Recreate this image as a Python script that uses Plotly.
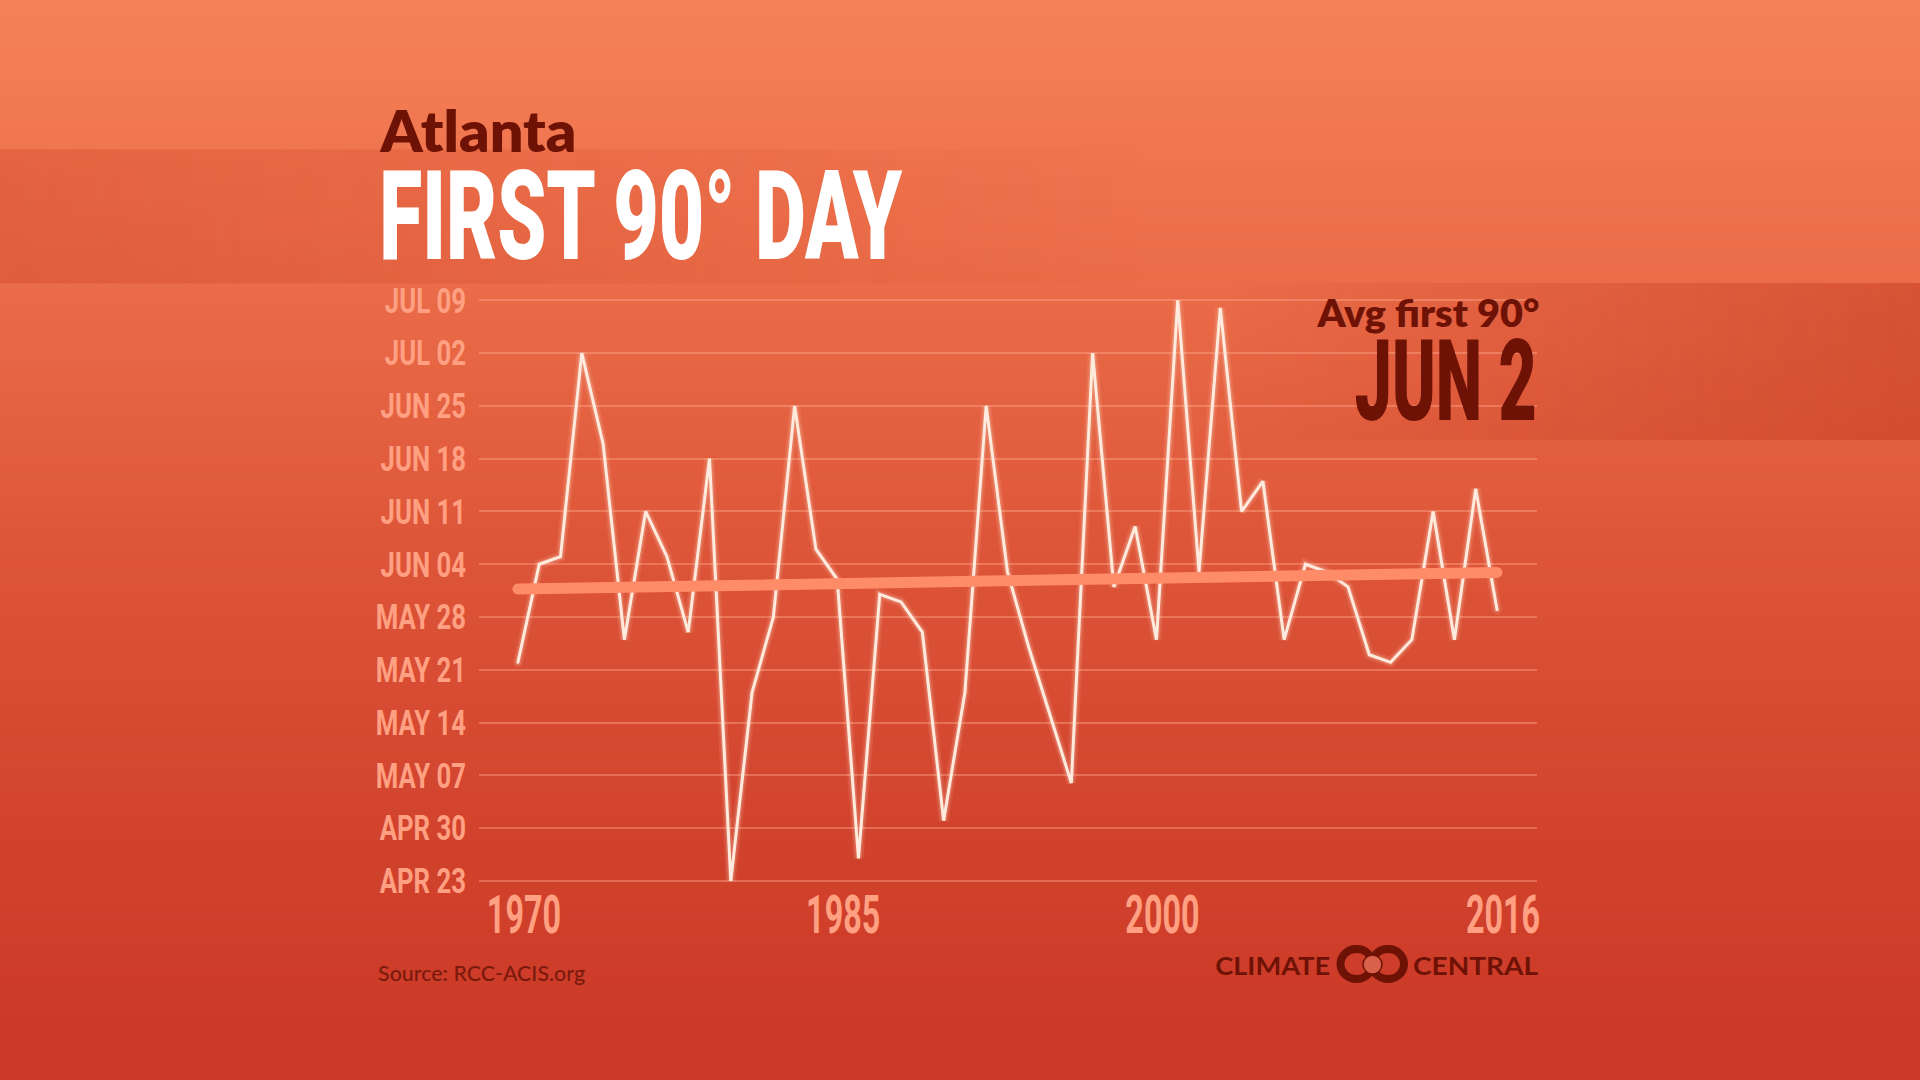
from datetime import datetime
import numpy as np
import plotly.graph_objects as go

W, H = 1920, 1080

years = list(range(1970, 2017))
first_90 = ["May 22","Jun 4","Jun 5","Jul 2","Jun 20","May 25","Jun 11","Jun 5","May 26","Jun 18",
            "Apr 23","May 18","May 28","Jun 25","Jun 6","Jun 2","Apr 26","May 31","May 30","May 26",
            "May 1","May 18","Jun 25","Jun 3","May 24","May 15","May 6","Jul 2","Jun 1","Jun 9",
            "May 25","Jul 9","Jun 3","Jul 8","Jun 11","Jun 15","May 25","Jun 4","Jun 3","Jun 1",
            "May 23","May 22","May 25","Jun 11","May 25","Jun 14","May 29"]
trend_years = [1970, 2016]
trend_dates = ["2001-05-31 17:00", "2001-06-02 22:00"]
y_ticks = ["Apr 23","Apr 30","May 7","May 14","May 21","May 28","Jun 4","Jun 11","Jun 18","Jun 25","Jul 2","Jul 9"]
y_labels = ["APR 23","APR 30","MAY 07","MAY 14","MAY 21","MAY 28","JUN 04","JUN 11","JUN 18","JUN 25","JUL 02","JUL 09"]
x_ticks = [1970, 1985, 2000, 2016]

def d(s):
    return datetime.strptime("2001 " + s, "%Y %b %d")

first_dates = [d(s) for s in first_90]
tick_dates = [d(s) for s in y_ticks]

COND = "Roboto"
DARK = "#6E1206"
TICK = "#FFA082"

fig = go.Figure()

n = 108
fig.add_trace(go.Heatmap(
    z=[[v] for v in np.linspace(0, 1, n)],
    x=[0, W], y=np.linspace(0, H, n + 1),
    colorscale=[[0, "#F68157"], [0.26, "#EA6C48"], [0.5, "#DE5639"], [0.75, "#D2442E"], [1, "#CB3826"]],
    zmin=0, zmax=1, showscale=False, hoverinfo="skip"))

def band(x0, x1, y0, y1, rgb, a0, a1):
    fig.add_trace(go.Heatmap(
        z=[list(np.linspace(a0, a1, 96))],
        x=np.linspace(x0, x1, 97), y=[y0, y1],
        colorscale=[[0, f"rgba({rgb},0)"], [1, f"rgba({rgb},1)"]],
        zmin=0, zmax=1, showscale=False, hoverinfo="skip"))

band(0, 1150, 149.4, 283, "205,60,35", 0.32, 0.0)
band(1225, W, 283, 440, "190,50,28", 0.0, 0.42)

for w, a in [(10, 0.10), (6, 0.20)]:
    fig.add_trace(go.Scatter(x=years, y=first_dates, xaxis="x2", yaxis="y2", mode="lines",
                             line=dict(color=f"rgba(255,225,205,{a})", width=w), hoverinfo="skip", cliponaxis=False))
fig.add_trace(go.Scatter(x=years, y=first_dates, xaxis="x2", yaxis="y2", mode="lines",
                         line=dict(color="#FFEBDD", width=3), cliponaxis=False))
fig.add_trace(go.Scatter(x=trend_years, y=trend_dates, xaxis="x2", yaxis="y2", mode="lines",
                         line=dict(color="#FF8C69", width=11), cliponaxis=False))

def ann(text, x, y, size, color, family, weight=None):
    fig.add_annotation(text=text, x=x, y=y, xref="x", yref="y", showarrow=False, xanchor="center", yanchor="middle",
                       font=dict(size=size, color=color, family=family, weight=weight))

ann("Atlanta", 478, 130, 56, DARK, "Lato", 800)
ann("FIRST 90° DAY", 641, 216, 124, "#FFFFFF", COND, 900)
ann("Avg first 90°", 1428, 312, 38, DARK, "Lato", 800)
ann("JUN 2", 1446, 381, 113, DARK, COND, 900)
ann("Source: RCC-ACIS.org", 481, 972, 21, "#7A1A0C", "Lato", 500)
ann("CLIMATE", 1272, 965, 24, DARK, "Lato", 700)
ann("CENTRAL", 1476, 965, 24, DARK, "Lato", 700)

for cx in (1356.5, 1388):
    fig.add_shape(type="circle", xref="x", yref="y", x0=cx - 16, x1=cx + 16, y0=964 - 15, y1=964 + 15,
                  line=dict(color=DARK, width=8), layer="above")
fig.add_shape(type="circle", xref="x", yref="y", x0=1363, x1=1382, y0=955, y1=974,
              fillcolor="#D9604A", line=dict(color=DARK, width=1.5), layer="above")

fig.update_layout(
    template="none",
    width=W, height=H, margin=dict(l=0, r=0, t=0, b=0, pad=0, autoexpand=False), showlegend=False,
    paper_bgcolor="#DE5639", plot_bgcolor="rgba(0,0,0,0)",
    xaxis=dict(range=[0, W], domain=[0, 1], visible=False, fixedrange=True, automargin=False),
    yaxis=dict(range=[H, 0], domain=[0, 1], visible=False, fixedrange=True, automargin=False),
    xaxis2=dict(anchor="y2", domain=[479 / W, 1537 / W], range=[1968.17, 2017.88], automargin=False,
                tickvals=x_ticks, ticktext=[str(v) for v in x_ticks], showgrid=False, zeroline=False, showline=False,
                ticks="", ticklabelshift=6, ticklabelstandoff=-10,
                tickfont=dict(family=COND, size=53, color=TICK, weight=700)),
    yaxis2=dict(anchor="x2", type="date", domain=[(H - 888.54) / H, (H - 292.76) / H], automargin=False,
                range=[d("Apr 22"), d("Jul 10")], tickvals=tick_dates, ticktext=y_labels,
                showgrid=True, gridcolor="rgba(255,170,140,0.42)", gridwidth=1.5, zeroline=False, showline=False,
                ticks="outside", ticklen=5, tickcolor="rgba(0,0,0,0)",
                tickfont=dict(family=COND, size=35, color=TICK, weight=700)),
)

post = """
document.body.style.margin = '0';
(function () {
  var gd = document.getElementById('{plot_id}');
  var targets = {'Atlanta': 196, 'FIRST 90° DAY': 523, 'Avg first 90°': 222, 'JUN 2': 182,
                 'Source: RCC-ACIS.org': 207, 'CLIMATE': 115, 'CENTRAL': 125};
  var factors = {'35px': 0.735, '53px': 0.61};
  function fit() {
    gd.querySelectorAll('text').forEach(function (t) {
      var s = t.textContent, len = null;
      t.removeAttribute('textLength');
      if (targets[s]) len = targets[s];
      else if (factors[t.style.fontSize]) len = t.getComputedTextLength() * factors[t.style.fontSize];
      if (len) { t.setAttribute('textLength', len); t.setAttribute('lengthAdjust', 'spacingAndGlyphs'); }
    });
    gd.querySelectorAll('.scatterlayer .js-line').forEach(function (p) { p.style.strokeLinecap = 'round'; });
  }
  fit();
  setTimeout(fit, 200);
})();
"""
fig.write_html("out.html", post_script=post, config={"displayModeBar": False})
